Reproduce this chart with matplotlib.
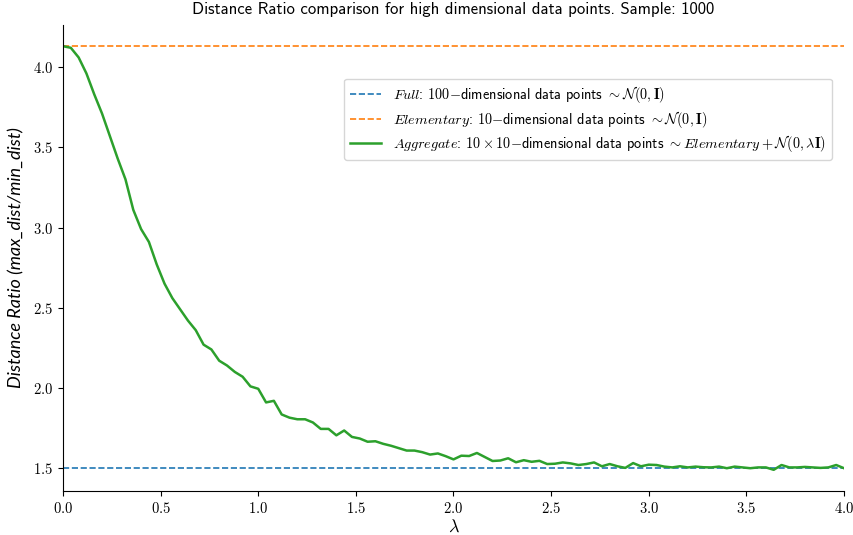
import numpy as np
import matplotlib
matplotlib.use("Agg")
import matplotlib.pyplot as plt
from matplotlib.ticker import FuncFormatter

lam = np.linspace(0, 4, 101)
full_ratio = 1.50
elementary_ratio = 4.13
aggregate = [
    4.13, 4.12, 4.06, 3.96, 3.83, 3.71, 3.57, 3.43, 3.30, 3.11,
    2.99, 2.91, 2.77, 2.65, 2.56, 2.49, 2.42, 2.36, 2.27, 2.24,
    2.17, 2.14, 2.10, 2.07, 2.01, 1.995, 1.91, 1.92, 1.835, 1.815,
    1.805, 1.805, 1.785, 1.745, 1.745, 1.705, 1.735, 1.695, 1.685, 1.665,
    1.668, 1.652, 1.64, 1.625, 1.61, 1.61, 1.60, 1.585, 1.592, 1.575,
    1.555, 1.578, 1.576, 1.595, 1.57, 1.545, 1.548, 1.562, 1.537, 1.55,
    1.54, 1.546, 1.526, 1.528, 1.536, 1.53, 1.52, 1.526, 1.536, 1.512,
    1.526, 1.512, 1.502, 1.532, 1.512, 1.522, 1.52, 1.51, 1.505, 1.512,
    1.505, 1.51, 1.506, 1.505, 1.51, 1.50, 1.51, 1.505, 1.50, 1.505,
    1.505, 1.49, 1.52, 1.505, 1.505, 1.508, 1.505, 1.502, 1.505, 1.52,
    1.50,
]
xticks = [0.0, 0.5, 1.0, 1.5, 2.0, 2.5, 3.0, 3.5, 4.0]
yticks = [1.5, 2.0, 2.5, 3.0, 3.5, 4.0]

plt.rcParams['mathtext.fontset'] = 'cm'
plt.rcParams['font.family'] = ['cmss10', 'DejaVu Sans']
plt.rcParams['axes.unicode_minus'] = False

fig = plt.figure(figsize=(8.54, 5.35), dpi=100)
ax = fig.add_axes([63/854, 1 - 491/535, 781/854, 466/535])

ax.axhline(full_ratio, color='#1f77b4', ls='--', lw=1.2,
           label=r'$Full$: $100{-}$dimensional data points $\sim \mathcal{N}(\mathbf{0},\mathbf{I})$')
ax.axhline(elementary_ratio, color='#ff7f0e', ls='--', lw=1.2,
           label=r'$Elementary$: $10{-}$dimensional data points $\sim \mathcal{N}(\mathbf{0},\mathbf{I})$')
ax.plot(lam, aggregate, color='#2ca02c', lw=1.8,
        label=r'$Aggregate$: $10\times10{-}$dimensional data points $\sim Elementary+\mathcal{N}(\mathbf{0},\lambda\mathbf{I})$')

ax.set_xlim(0, 4)
ax.set_xticks(xticks)
ax.set_yticks(yticks)
fmt = FuncFormatter(lambda v, p: r'$%.1f$' % v)
ax.xaxis.set_major_formatter(fmt)
ax.yaxis.set_major_formatter(fmt)
ax.tick_params(labelsize=10.5, length=3.5, width=0.8)

for s in ['top', 'right']:
    ax.spines[s].set_visible(False)

ax.set_xlabel(r'$\lambda$', fontsize=13, labelpad=2)
ax.set_ylabel('Distance Ratio (max_dist/min_dist)', fontsize=13,
              family=['Lato', 'DejaVu Sans'], style='italic', labelpad=6)
ax.set_title('Distance Ratio comparison for high dimensional data points. Sample: 1000',
             fontsize=12, pad=8)

ax.legend(loc='upper right', bbox_to_anchor=(0.984, 0.885), borderaxespad=0,
          fontsize=10.3, frameon=True, handlelength=2.2, labelspacing=0.25)

fig.savefig('out.png', dpi=100)
